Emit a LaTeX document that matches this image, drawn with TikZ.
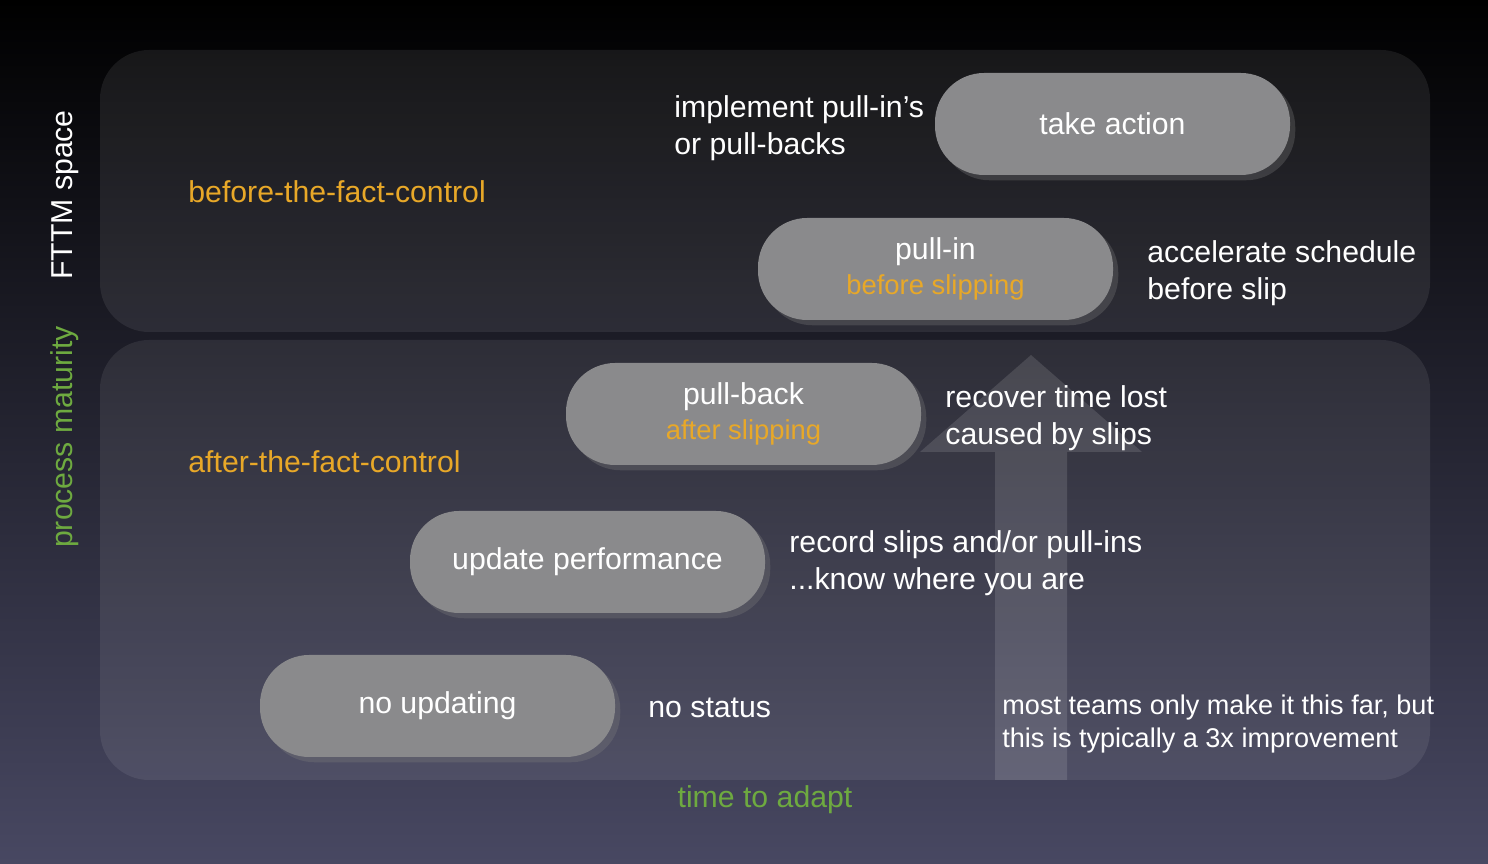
\documentclass[tikz,border=0pt]{standalone}
\usepackage{fontspec}
\setmainfont{Liberation Sans}
\usetikzlibrary{shadows}
\definecolor{amber}{RGB}{232,168,40}
\definecolor{leaf}{RGB}{110,170,64}
\definecolor{boxgray}{RGB}{138,138,140}
\definecolor{bgbot}{RGB}{72,72,98}
\tikzset{
  stage/.style={rounded corners=14pt, fill=boxgray, minimum width=3.55cm, minimum height=1.02cm,
    text=white, align=center, font=\fontsize{8.6}{10}\selectfont,
    drop shadow={opacity=0.3, shadow xshift=1.5pt, shadow yshift=-1.5pt}},
  note/.style={text=white, align=left, anchor=west, font=\fontsize{8.6}{10.4}\selectfont},
  zone/.style={text=amber, anchor=west, font=\fontsize{8.6}{10}\selectfont},
  panel/.style={rounded corners=14pt, fill=white, fill opacity=0.08}
}
\begin{document}
\begin{tikzpicture}[y=-1cm, x=1cm]
    \shade[top color=black, bottom color=bgbot] (0,0) rectangle (14.88,8.64);
    \useasboundingbox (0,0) rectangle (14.88,8.64);

    % panels
    \fill[panel] (1.00,0.50) rectangle (14.30,3.32);
    \fill[panel] (1.00,3.40) rectangle (14.30,7.80);

    % big arrow
    \fill[white, opacity=0.12] (9.95,7.80) -- (9.95,4.52) -- (9.20,4.52) -- (10.31,3.55)
        -- (11.42,4.52) -- (10.67,4.52) -- (10.67,7.80) -- cycle;

    % stages
    \node[stage] (act) at (11.125,1.24) {take action};
    \node[stage] (pullin) at (9.355,2.69) {pull-in\\{\color{amber}\fontsize{7.8}{9}\selectfont before slipping}};
    \node[stage] (pullback) at (7.435,4.14) {pull-back\\{\color{amber}\fontsize{7.8}{9}\selectfont after slipping}};
    \node[stage] (update) at (5.875,5.62) {update performance};
    \node[stage] (none) at (4.375,7.06) {no updating};

    % notes
    \node[note] (actnote) at (6.62,1.28) {implement pull-in’s\\or pull-backs};
    \node[note] (pullinnote) at (11.35,2.73) {accelerate schedule\\before slip};
    \node[note] (pullbacknote) at (9.33,4.18) {recover time lost\\caused by slips};
    \node[note] (updatenote) at (7.77,5.63) {record slips and/or pull-ins\\...know where you are};
    \node[note] (nonenote) at (6.36,7.08) {no status};
    \node[note, font=\fontsize{7.7}{9.2}\selectfont] (farnote) at (9.90,7.24) {most teams only make it this far, but\\this is typically a 3x improvement};

    % zones
    \node[zone] (before) at (1.76,1.92) {before-the-fact-control};
    \node[zone] (after) at (1.76,4.62) {after-the-fact-control};

    % axes
    \node[rotate=90, text=white, font=\fontsize{8.6}{10}\selectfont] (fttm) at (0.65,1.95) {FTTM space};
    \node[rotate=90, text=leaf, font=\fontsize{8.6}{10}\selectfont] (maturity) at (0.65,4.37) {process maturity};
    \node[text=leaf, font=\fontsize{8.6}{10}\selectfont] (time) at (7.65,8.00) {time to adapt};
\end{tikzpicture}
\end{document}
